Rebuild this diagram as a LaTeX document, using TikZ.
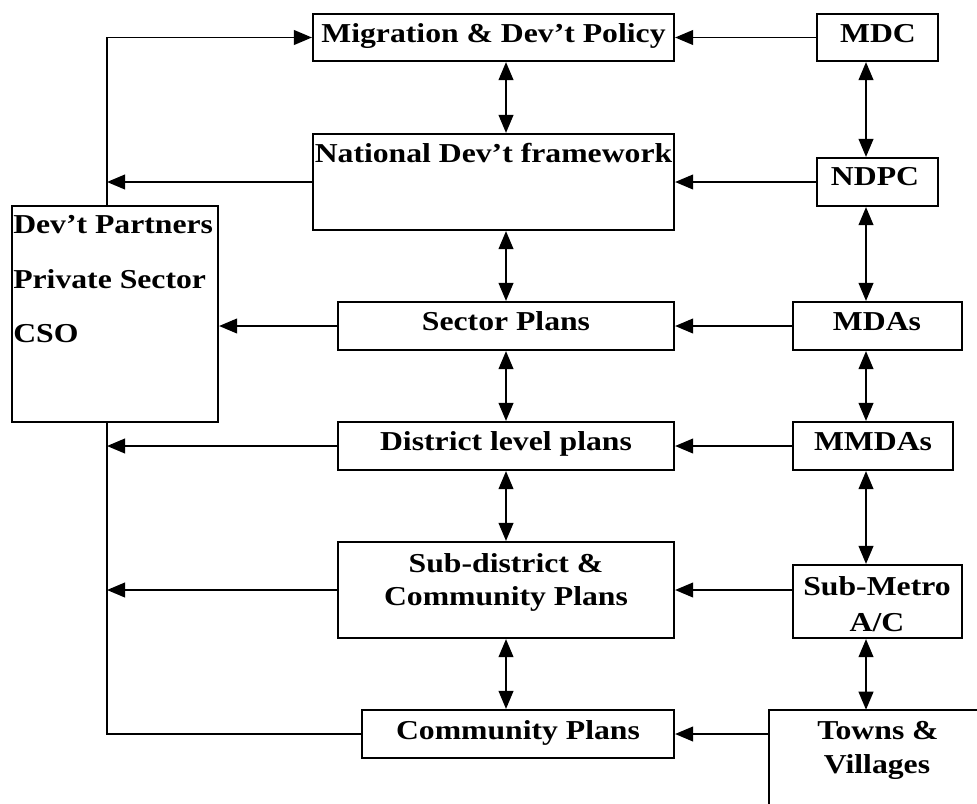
\documentclass[tikz,border=0pt]{standalone}
\usepackage{fontspec}
\setmainfont{Liberation Serif}[FakeStretch=1.16]
\usetikzlibrary{arrows.meta,fit}
\begin{document}
\begin{tikzpicture}[x=0.75pt,y=-0.75pt,
 box/.style={draw,line width=1.6pt,inner sep=0pt},
 nobox/.style={inner sep=0pt},
 txt/.style={font=\bfseries\fontsize{20.5}{24}\selectfont,anchor=base,inner sep=0pt},
 ltxt/.style={txt,anchor=base west},
 conn/.style={line width=1.4pt},
 arr/.style={conn,-{Triangle[length=13.5pt,width=11pt]}},
 dbl/.style={conn,{Triangle[length=13.5pt,width=11pt]}-{Triangle[length=13.5pt,width=11pt]}}]
\useasboundingbox (0,0) rectangle (977,803);
\fill[white] (0,0) rectangle (977,803);
\clip (0,0) rectangle (977,803);
% boxes
\node[box,fit={(313,14) (674,61)}] (mig) {};
\node[box,fit={(313,134) (674,230)}] (nat) {};
\node[box,fit={(338,302) (674,350)}] (sec) {};
\node[box,fit={(338,422) (674,470)}] (dis) {};
\node[box,fit={(338,542) (674,638)}] (sub) {};
\node[box,fit={(362,710) (674,758)}] (com) {};
\node[box,fit={(817,14) (938,61)}] (mdc) {};
\node[box,fit={(817,158) (938,206)}] (ndpc) {};
\node[box,fit={(793,302) (962,350)}] (mda) {};
\node[box,fit={(793,422) (953,470)}] (mmda) {};
\node[box,fit={(793,565) (962,638)}] (smet) {};
\node[box,fit={(12,206) (218,422)}] (dp) {};
\node[nobox,fit={(769,710) (1000,830)}] (towns) {};
\draw[line width=1.6pt] (towns.south west) -- (towns.north west) -- (towns.north east);
% helper coordinates
\coordinate (cx) at (506,0);
\coordinate (rx) at (866,0);
\coordinate (lx) at (107,0);
% right to centre
\draw[arr] (mdc.west) -- (mdc.west -| mig.east);
\draw[arr] (ndpc.west) -- (ndpc.west -| nat.east);
\draw[arr] (mda.west) -- (mda.west -| sec.east);
\draw[arr] (mmda.west) -- (mmda.west -| dis.east);
\draw[arr] (smet.west |- sub.east) -- (sub.east);
\draw[arr] (towns.west |- com.east) -- (com.east);
% centre to left
\draw[arr] (dp.north -| lx) -- (lx |- mig.west) -- (mig.west);
\draw[arr] (nat.west) -- (nat.west -| lx);
\draw[arr] (sec.west) -- (sec.west -| dp.east);
\draw[conn] (dp.south -| lx) -- (lx |- com.west) -- (com.west);
\draw[arr] (dis.west) -- (dis.west -| lx);
\draw[arr] (sub.west) -- (sub.west -| lx);
% vertical double arrows
\draw[dbl] (mig.south -| cx) -- (nat.north -| cx);
\draw[dbl] (nat.south -| cx) -- (sec.north -| cx);
\draw[dbl] (sec.south -| cx) -- (dis.north -| cx);
\draw[dbl] (dis.south -| cx) -- (sub.north -| cx);
\draw[dbl] (sub.south -| cx) -- (com.north -| cx);
\draw[dbl] (mdc.south -| rx) -- (ndpc.north -| rx);
\draw[dbl] (ndpc.south -| rx) -- (mda.north -| rx);
\draw[dbl] (mda.south -| rx) -- (mmda.north -| rx);
\draw[dbl] (mmda.south -| rx) -- (smet.north -| rx);
\draw[dbl] (smet.south -| rx) -- (towns.north -| rx);
% texts
\node[txt] (tmig) at (493.5,42) {Migration \& Dev’t Policy};
\node[txt] (tnat) at (493.5,162) {National Dev’t framework};
\node[txt] (tsec) at (506,330) {Sector Plans};
\node[txt] (tdis) at (506,450) {District level plans};
\node[txt] (tsub1) at (506,572) {Sub-district \&};
\node[txt] (tsub2) at (506,605) {Community Plans};
\node[txt] (tcom) at (518,739) {Community Plans};
\node[txt] (tmdc) at (878,42) {MDC};
\node[txt] (tndpc) at (875,185) {NDPC};
\node[txt] (tmda) at (877,330) {MDAs};
\node[txt] (tmmda) at (873,450) {MMDAs};
\node[txt] (tsm1) at (877,595) {Sub-Metro};
\node[txt] (tsm2) at (877,631) {A/C};
\node[txt] (tt1) at (878,739) {Towns \&};
\node[txt] (tt2) at (877,773) {Villages};
\node[ltxt] (tdp1) at (13,233) {Dev’t Partners};
\node[ltxt] (tdp2) at (13,288) {Private Sector};
\node[ltxt] (tdp3) at (13,342) {CSO};
\end{tikzpicture}
\end{document}
